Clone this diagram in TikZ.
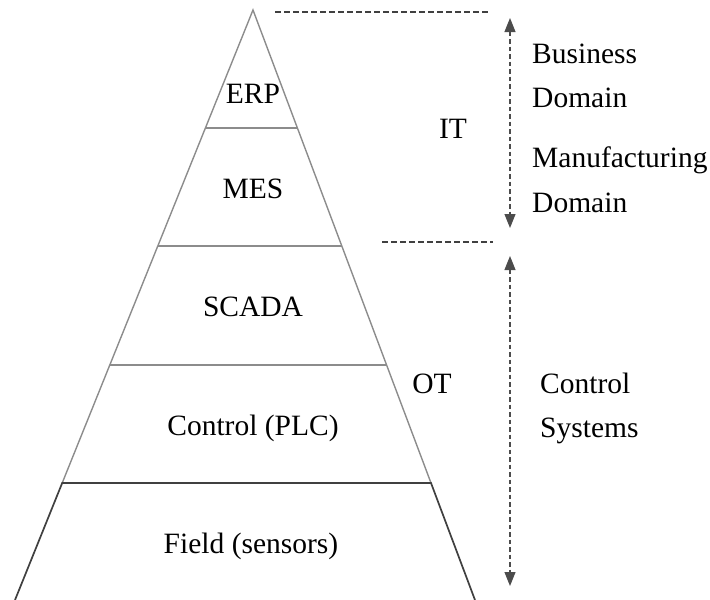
\documentclass[tikz,border=0pt]{standalone}
\usepackage{fontspec}
\setmainfont{Liberation Serif}
\usetikzlibrary{arrows.meta}
\begin{document}
\begin{tikzpicture}[x=1pt,y=-1pt,
  edge/.style={draw=black!45,line width=1.4pt},
  baseedge/.style={draw=black!75,line width=1.7pt},
  guide/.style={draw=black!75,line width=1.1pt,dash pattern=on 5.5pt off 3.5pt},
  span/.style={draw=black!70,line width=1.1pt,dash pattern=on 4.5pt off 3pt,
    {Triangle[length=14pt,width=11pt]}-{Triangle[length=14pt,width=11pt]}},
  lbl/.style={font=\fontsize{29.5}{35}\selectfont,text=black,inner sep=0pt},
  side/.style={lbl,anchor=base west},
  layer/.style={lbl,anchor=base}]
\useasboundingbox (0,0) rectangle (710,600);

% pyramid outline and layer boundaries
\coordinate (apex) at (253,10);
\coordinate (l1) at (205.4,128);  \coordinate (r1) at (297.4,128);
\coordinate (l2) at (157.8,246);  \coordinate (r2) at (341.8,246);
\coordinate (l3) at (109.8,365);  \coordinate (r3) at (386.6,365);
\coordinate (l4) at (62.2,483);   \coordinate (r4) at (431,483);
\coordinate (l5) at (15,600);     \coordinate (r5) at (475,600);

\draw[edge] (l4) -- (apex) -- (r4);
\draw[edge] (l1) -- (r1);
\draw[edge] (l2) -- (r2);
\draw[edge] (l3) -- (r3);
\draw[baseedge] (l5) -- (l4) -- (r4) -- (r5);

% layer names
\node[layer] (erp)   at (253,103) {ERP};
\node[layer] (mes)   at (253,198) {MES};
\node[layer] (scada) at (253,316) {SCADA};
\node[layer] (plc)   at (253,435) {Control (PLC)};
\node[layer] (field) at (251,553) {Field (sensors)};

% IT / OT split
\node[layer] (it) at (453,138) {IT};
\node[layer] (ot) at (432,393) {OT};

\coordinate (g1a) at (275,12);  \coordinate (g1b) at (490,12);
\coordinate (g2a) at (382,242); \coordinate (g2b) at (493,242);
\draw[guide] (g1a) -- (g1b);
\draw[guide] (g2a) -- (g2b);

% vertical extents
\coordinate (a1t) at (510,18);  \coordinate (a1b) at (510,228);
\coordinate (a2t) at (510,256); \coordinate (a2b) at (510,586);
\draw[span] (a1t) -- (a1b);
\draw[span] (a2t) -- (a2b);

% domain descriptions
\node[side] (bus)  at (532,63)  {Business};
\node[side] (bdom) at (532,107) {Domain};
\node[side] (man)  at (532,167) {Manufacturing};
\node[side] (mdom) at (532,212) {Domain};
\node[side] (ctl)  at (540,393) {Control};
\node[side] (sys)  at (540,437) {Systems};
\end{tikzpicture}
\end{document}
